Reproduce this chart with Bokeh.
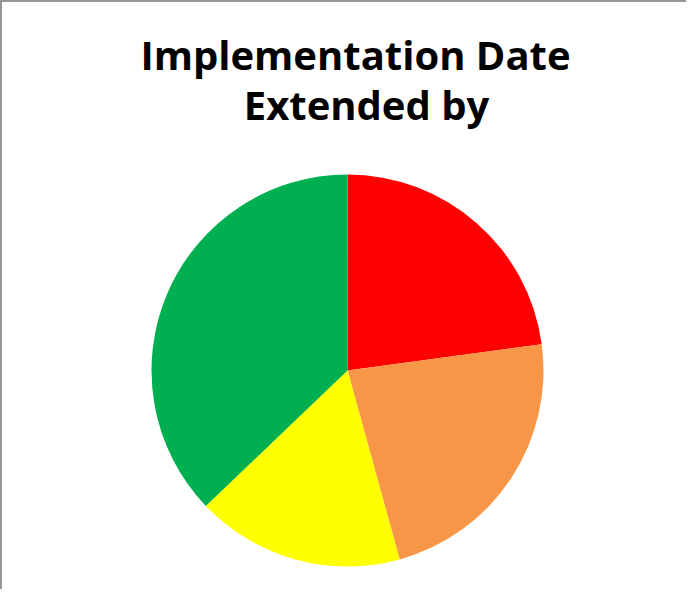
import math
from bokeh.plotting import figure
from bokeh.models import ColumnDataSource, Label
from bokeh.embed import file_html
from bokeh.resources import INLINE

# Data
categories = ["< 3 months", "3-6 months", "6-12 months", "> 12 months"]
counts = [8, 8, 6, 13]
colors = ["#FF0000", "#F79646", "#FFFF00", "#00B050"]
title_lines = ["Implementation Date", "Extended by"]

# Layout (pixels; 1 data unit == 1 px)
W, H = 686, 589
cx, cy = 345, 368          # pie centre in canvas px (from top-left)
R = 196

total = sum(counts)
starts, ends = [], []
a = math.pi / 2
for c in counts:
    span = 2 * math.pi * c / total
    starts.append(a - span)
    ends.append(a)
    a -= span

src = ColumnDataSource(dict(cat=categories, val=counts, color=colors,
                            start=starts, end=ends))

p = figure(width=W, height=H, x_range=(-cx, W - cx), y_range=(-(H - cy), cy),
           output_backend="svg", toolbar_location=None, min_border=0,
           background_fill_color="white", border_fill_color="white")
p.axis.visible = False
p.grid.visible = False
p.outline_line_color = None

p.wedge(x=0, y=0, radius=R, start_angle="start", end_angle="end",
        fill_color="color", line_color=None, source=src)

font = "Open Sans"
p.add_layout(Label(x=8, y=cy - 52, text=title_lines[0], text_align="center",
                   text_baseline="alphabetic", text_font=font,
                   text_font_style="bold", text_font_size="40px",
                   text_color="black"))
p.add_layout(Label(x=19, y=cy - 101.5, text=title_lines[1], text_align="center",
                   text_baseline="alphabetic", text_font=font,
                   text_font_style="bold", text_font_size="40px",
                   text_color="black"))

p.styles = {"border-left": "2px solid #969696", "border-top": "2px solid #969696",
            "box-sizing": "border-box"}

open("out.html", "w").write(file_html(p, INLINE))
